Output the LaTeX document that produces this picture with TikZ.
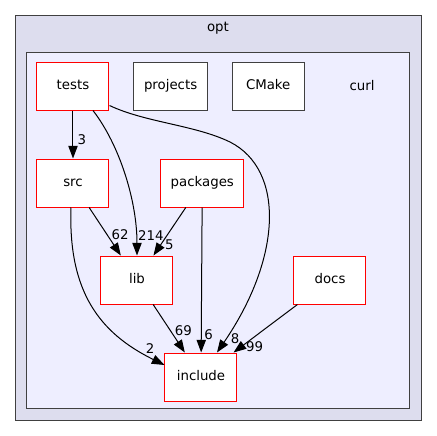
\documentclass[tikz,border=0pt]{standalone}
\usepackage{fontspec}
\setmainfont{DejaVu Sans}
\usetikzlibrary{arrows.meta, positioning}
\definecolor{optcol}{RGB}{221, 221, 238}
\definecolor{curlcol}{RGB}{238, 238, 255}
\definecolor{framecol}{RGB}{64, 64, 64}

\begin{document}
\begin{tikzpicture}[
        x=0.75pt, y=-0.75pt,
        font=\fontsize{10pt}{12pt}\selectfont,
        dir/.style={rectangle, draw=red, fill=white, line width=0.75pt, minimum height=36pt, minimum width=54pt, inner xsep=7.5pt, text height=7.5pt, text depth=2pt},
        leaf/.style={dir, draw=framecol},
        arrow/.style={-{Triangle[length=9.5pt, width=7pt]}, line width=0.75pt},
        num/.style={inner sep=1pt}
    ]
    \useasboundingbox (0,0) rectangle (437,436);

    % Clusters
    \draw[framecol, fill=optcol, line width=0.75pt] (15.5,15.5) rectangle (421.5,420);
    \node (optlabel) at (218,28) {opt};
    \draw[framecol, fill=curlcol, line width=0.75pt] (27,52) rectangle (410,408);
    \node (curllabel) at (362,86) {curl};

    % Top row
    \node[dir] (tests) at (73,86) {tests};
    \node[leaf, right=18pt of tests] (projects) {projects};
    \node[leaf, right=18pt of projects] (cmake) {CMake};

    % Middle rows
    \node[dir, below=36pt of tests] (src) {src};
    \node[dir, right=38pt of src] (packages) {packages};
    \node[dir, below=36pt of src, xshift=48pt] (lib) {lib};
    \node[dir, right=90pt of lib] (docs) {docs};

    % Bottom
    \node[dir, below=36pt of lib, xshift=48pt] (include) {include};

    % Arrows
    \draw[arrow] (tests) -- node[num, pos=0.6, anchor=west, xshift=2pt] {3} (src);
    \draw[arrow] ([xshift=15pt]tests.south) .. controls +(27,35) and +(0,-54) .. (lib.north) node[num, pos=0.88, anchor=west] {214};

    \coordinate (bend) at (230,142);
    \draw[arrow] ([yshift=3.75pt]tests.south east) .. controls +(36,17) and +(-35,-17) .. (bend) .. controls +(55,28) and +(65,-95) .. ([xshift=12pt]include.north) node[num, pos=0.95, anchor=west, xshift=2pt] {8};

    \draw[arrow] (src) -- node[num, pos=0.565, anchor=west, xshift=2pt] {62} (lib);
    \draw[arrow] ([xshift=-1.5pt]src.south) .. controls +(-3,84) and +(-65,-32) .. ([yshift=9pt]include.west) node[num, pos=0.9, above, xshift=3pt] {2};

    \draw[arrow] (packages) -- node[num, pos=0.78, anchor=west, xshift=2pt] {5} (lib);
    \draw[arrow] (packages) -- node[num, pos=0.875, anchor=west, xshift=1pt] {6} (include);

    \draw[arrow] (lib) -- node[num, pos=0.54, anchor=west, xshift=2pt] {69} (include);
    \draw[arrow] (docs) -- node[num, pos=0.875, anchor=west, xshift=2pt] {99} (include);

\end{tikzpicture}
\end{document}
